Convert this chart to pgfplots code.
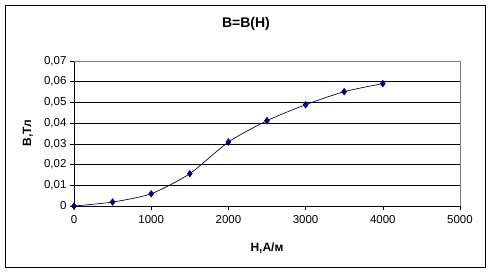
\documentclass[border=0pt]{standalone}
\usepackage{pgfplots}
\pgfplotsset{compat=1.18}
\usepackage{fontspec}
\setmainfont{Liberation Sans}
\definecolor{navy}{RGB}{0,0,128}
\definecolor{frameg}{RGB}{128,128,128}
\begin{document}
\begin{tikzpicture}
\path[use as bounding box] (-74bp,-69bp) rectangle (418bp,206bp);
\draw[black, line width=0.8bp] (-69bp,-61bp) rectangle (411bp,201bp);
\begin{axis}[
  at={(0,0)}, anchor=south west,
  scale only axis, width=386bp, height=145bp,
  xmin=0, xmax=5000, ymin=0, ymax=0.07,
  xtick={0,1000,2000,3000,4000,5000},
  ytick={0,0.01,0.02,0.03,0.04,0.05,0.06,0.07},
  yticklabels={0,{0,01},{0,02},{0,03},{0,04},{0,05},{0,06},{0,07}},
  xticklabel style={font=\fontsize{11.5bp}{13bp}\selectfont, yshift=-2bp},
  yticklabel style={font=\fontsize{11.5bp}{13bp}\selectfont},
  /pgf/number format/assume math mode=true,
  /pgf/number format/1000 sep={},
  scaled y ticks=false,
  axis x line*=bottom, axis y line*=left,
  axis line style={-, black, line width=0.8bp},
  tick align=outside,
  major tick length=4bp,
  tick style={black, line width=0.6bp},
  ymajorgrids, grid style={black, line width=0.6bp},
  clip=false,
]
\addplot[navy, line width=0.7bp, smooth, tension=0.4, mark=diamond*, mark size=3.2bp, mark options={fill=navy, draw=navy}]
  coordinates {(0,0) (500,0.0019) (1000,0.0059) (1500,0.0156) (2000,0.0309) (2500,0.0412) (3000,0.0489) (3500,0.0552) (4000,0.0591)};
\draw[frameg, line width=0.8bp] (axis cs:0,0.07) -- (axis cs:5000,0.07) -- (axis cs:5000,0);
\end{axis}
\node[font=\bfseries\fontsize{14bp}{16bp}\selectfont] at (172bp,182bp) {B=B(H)};
\node[font=\bfseries\fontsize{12bp}{14bp}\selectfont] at (193bp,-42bp) {H,А/м};
\node[font=\bfseries\fontsize{12bp}{14bp}\selectfont, rotate=90] at (-46bp,73bp) {B,Тл};
\end{tikzpicture}
\end{document}
